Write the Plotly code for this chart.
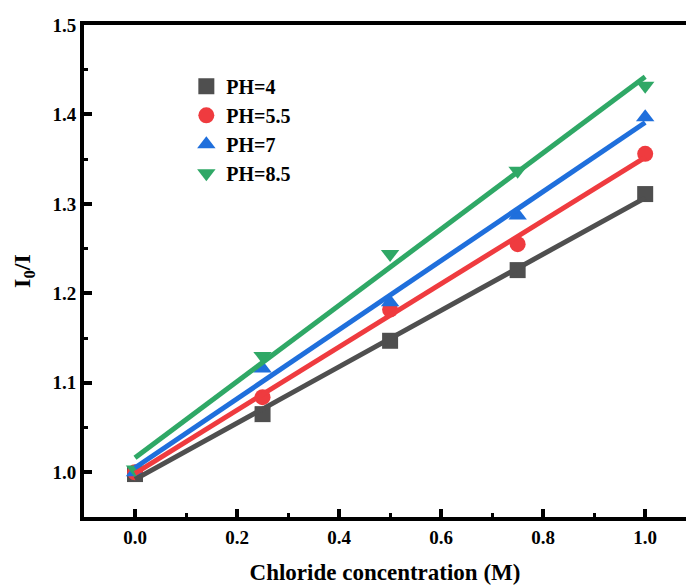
import numpy as np
import plotly.graph_objects as go

conc = [0.0, 0.25, 0.5, 0.75, 1.0]
series_names = ["PH=4", "PH=5.5", "PH=7", "PH=8.5"]
ph4 = [0.998, 1.065, 1.147, 1.226, 1.311]
ph55 = [1.0, 1.084, 1.182, 1.255, 1.356]
ph7 = [1.0, 1.116, 1.19, 1.287, 1.397]
ph85 = [1.003, 1.13, 1.244, 1.337, 1.432]
x_ticks = [0.0, 0.2, 0.4, 0.6, 0.8, 1.0]
y_ticks = [1.0, 1.1, 1.2, 1.3, 1.4, 1.5]

colors = ["#4f4f4f", "#ef3b3f", "#1f6fdc", "#2fa866"]
symbols = ["square", "circle", "triangle-up", "triangle-down"]
data = [ph4, ph55, ph7, ph85]

fig = go.Figure()
for name, ys, c, s in zip(series_names, data, colors, symbols):
    fig.add_trace(go.Scatter(x=conc, y=ys, mode="markers", name=name,
                             marker=dict(symbol=s, size=16, color=c)))
for name, ys, c in zip(series_names, data, colors):
    k, b = np.polyfit(conc, ys, 1)
    xs = [conc[0], conc[-1]]
    fig.add_trace(go.Scatter(x=xs, y=[k * v + b for v in xs], mode="lines",
                             line=dict(color=c, width=5), showlegend=False,
                             hoverinfo="skip"))

font_family = "Liberation Serif"
fig.update_layout(
    width=686, height=587,
    margin=dict(l=84, r=0, t=25, b=70),
    paper_bgcolor="white", plot_bgcolor="white",
    font=dict(family=font_family, color="black"),
    showlegend=True,
    legend=dict(x=0.17, y=0.915, xanchor="left", yanchor="top",
                bgcolor="rgba(0,0,0,0)",
                font=dict(family=font_family, size=20, color="black", weight="bold"),
                itemsizing="trace", tracegroupgap=0),
    xaxis=dict(range=[-0.1, 1.08], tickvals=x_ticks,
               ticktext=[f"{v:.1f}" for v in x_ticks],
               showline=True, linecolor="black", linewidth=4, mirror=True,
               ticks="inside", ticklen=8, tickwidth=4, tickcolor="black",
               minor=dict(dtick=0.1, ticks="inside", ticklen=4, tickwidth=3, tickcolor="black"),
               showgrid=False, zeroline=False,
               tickfont=dict(size=19, weight="bold", family=font_family),
               title=dict(text="Chloride concentration (M)", standoff=18,
                          font=dict(size=23, weight="bold", family=font_family))),
    yaxis=dict(range=[0.95, 1.5], tickvals=y_ticks,
               ticktext=[f"{v:.1f}" for v in y_ticks],
               showline=True, linecolor="black", linewidth=4, mirror=False,
               ticks="inside", ticklen=8, tickwidth=4, tickcolor="black",
               minor=dict(dtick=0.05, ticks="inside", ticklen=4, tickwidth=3, tickcolor="black"),
               showgrid=False, zeroline=False,
               tickfont=dict(size=19, weight="bold", family=font_family),
               title=dict(text="I<sub>0</sub>/I", standoff=16,
                          font=dict(size=24, weight="bold", family=font_family))),
)

fig.write_html("out.html")
